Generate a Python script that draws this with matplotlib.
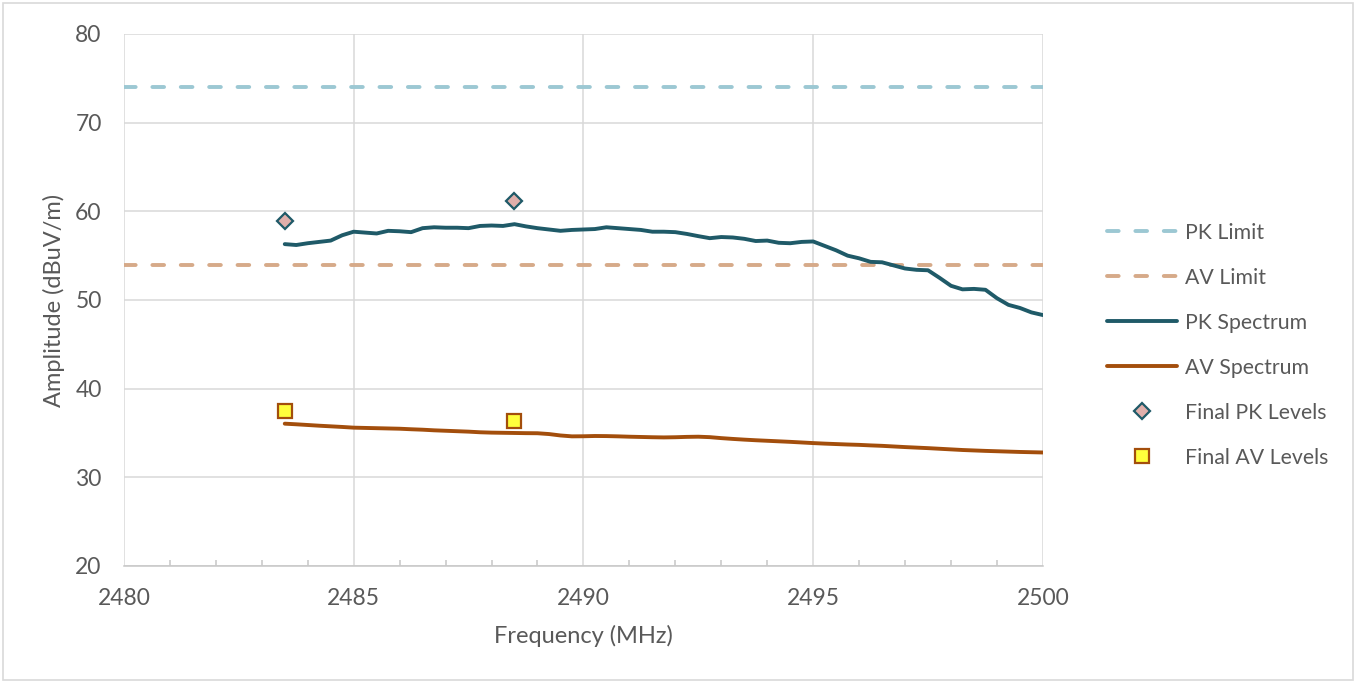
import numpy as np
import matplotlib
matplotlib.use('Agg')
import matplotlib.pyplot as plt
from matplotlib.ticker import MultipleLocator
from matplotlib.patches import Rectangle

plt.rcParams['font.family'] = ['Lato', 'DejaVu Sans']

# 频率轴 (MHz)，0.25 MHz 步进
freq = np.arange(2483.5, 2500.01, 0.25)

# 峰值扫描
pk_spectrum = [
    56.3, 56.2, 56.4, 56.55, 56.7, 57.3, 57.7, 57.6, 57.5, 57.8,
    57.75, 57.65, 58.1, 58.2, 58.15, 58.15, 58.1, 58.35, 58.4, 58.35,
    58.55, 58.3, 58.1, 57.95, 57.8, 57.9, 57.95, 58.0, 58.2, 58.1,
    58.0, 57.9, 57.7, 57.7, 57.65, 57.45, 57.2, 56.97, 57.1, 57.05,
    56.9, 56.65, 56.7, 56.45, 56.4, 56.55, 56.6, 56.1, 55.6, 55.0,
    54.7, 54.3, 54.25, 53.9, 53.55, 53.4, 53.35, 52.5, 51.6, 51.2,
    51.25, 51.15, 50.2, 49.45, 49.1, 48.6, 48.3,
]

# 平均值扫描
av_spectrum = [
    36.05, 35.98, 35.9, 35.82, 35.75, 35.68, 35.6, 35.57, 35.54, 35.51,
    35.48, 35.42, 35.37, 35.3, 35.25, 35.2, 35.15, 35.08, 35.04, 35.02,
    35.0, 34.98, 34.97, 34.88, 34.72, 34.62, 34.63, 34.66, 34.65, 34.62,
    34.58, 34.55, 34.52, 34.5, 34.52, 34.56, 34.58, 34.53, 34.42, 34.33,
    34.25, 34.18, 34.12, 34.06, 34.0, 33.93, 33.86, 33.8, 33.75, 33.7,
    33.66, 33.6, 33.55, 33.48, 33.41, 33.35, 33.29, 33.22, 33.15, 33.08,
    33.03, 32.98, 32.94, 32.9, 32.86, 32.83, 32.8,
]

# 限值
pk_limit = 74
av_limit = 54
limit_freq = [2480, 2500]

# 终测点
final_freq = [2483.5, 2488.5]
final_pk = [58.9, 61.2]
final_av = [37.5, 36.4]

fig = plt.figure(figsize=(13.56, 6.81), dpi=100)
ax = fig.add_axes([0.0914, 0.1689, 0.6777, 0.7812])

dash = dict(dashes=(3.0, 4.3), dash_capstyle='round')
ax.plot(limit_freq, [pk_limit, pk_limit], color='#9cc8d3', lw=2.8,
        label='PK Limit', **dash)
ax.plot(limit_freq, [av_limit, av_limit], color='#d6aa89', lw=2.8,
        label='AV Limit', **dash)
ax.plot(freq, pk_spectrum, color='#1f5a68', lw=2.8, label='PK Spectrum',
        solid_capstyle='round', solid_joinstyle='round')
ax.plot(freq, av_spectrum, color='#a34e0c', lw=2.8, label='AV Spectrum',
        solid_capstyle='round', solid_joinstyle='round')
ax.plot(final_freq, final_pk, ls='none', marker='D', ms=8.5,
        mfc='#e0afab', mec='#1f5a68', mew=1.6, label='Final PK Levels')
ax.plot(final_freq, final_av, ls='none', marker='s', ms=9.5,
        mfc='#ffff3c', mec='#a34e0c', mew=1.6, label='Final AV Levels')

# 坐标轴
ax.set_xlim(2480, 2500)
ax.set_ylim(20, 80)
ax.xaxis.set_major_locator(MultipleLocator(5))
ax.xaxis.set_minor_locator(MultipleLocator(1))
ax.yaxis.set_major_locator(MultipleLocator(10))
ax.grid(True, which='major', color='#d9d9d9', lw=1.1)
ax.set_axisbelow(True)
for side in ['top', 'right', 'left']:
    ax.spines[side].set_visible(False)
ax.spines['bottom'].set_color('#c6c6c6')
ax.spines['bottom'].set_linewidth(1.1)

ax.tick_params(axis='both', which='major', length=0, labelsize=16.5,
               labelcolor='#595959')
ax.tick_params(axis='y', pad=16)
ax.tick_params(axis='x', pad=16)
ax.tick_params(axis='x', which='minor', direction='in', length=4,
               color='#c6c6c6', width=1.1)

ax.set_xlabel('Frequency (MHz)', fontsize=17, color='#595959', labelpad=11)
ax.set_ylabel('Amplitude (dBuV/m)', fontsize=17, color='#595959', labelpad=7)

leg = ax.legend(loc='center left', bbox_to_anchor=(1.07, 0.415),
                frameon=False, fontsize=15.3, handlelength=3.3,
                handletextpad=0.35, labelspacing=1.18, borderpad=0,
                borderaxespad=0)
for t in leg.get_texts():
    t.set_color('#595959')

# 图表外框
fig.patches.append(Rectangle((0.002, 0.002), 0.996, 0.993, transform=fig.transFigure,
                             fill=False, edgecolor='#d9d9d9', lw=1.2))

fig.savefig('out.png', dpi=100)
